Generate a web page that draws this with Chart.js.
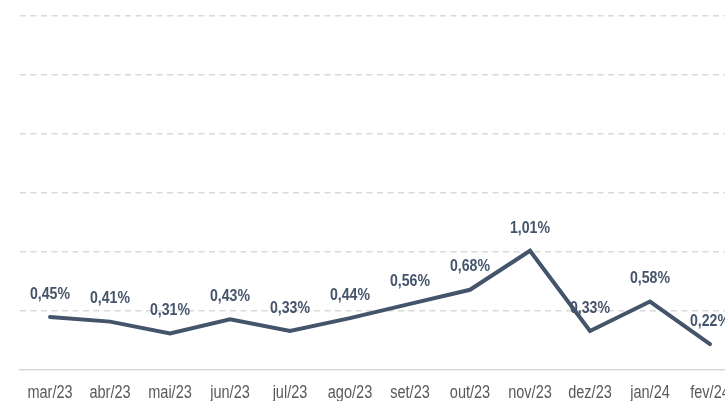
<!DOCTYPE html>
<html>
<head>
<meta charset="utf-8">
<script src="https://cdn.jsdelivr.net/npm/chart.js@4"></script>
<style>
html,body{margin:0;padding:0;background:#fff;overflow:hidden;width:725px;height:401px;}
#wrap{width:760px;height:401px;}
</style>
</head>
<body>
<div id="wrap"><canvas id="c" width="760" height="401"></canvas></div>
<script>
const categories = ['mar/23','abr/23','mai/23','jun/23','jul/23','ago/23','set/23','out/23','nov/23','dez/23','jan/24','fev/24'];
const values = [0.45, 0.41, 0.31, 0.43, 0.33, 0.44, 0.56, 0.68, 1.01, 0.33, 0.58, 0.22];
const yMin = 0, yMax = 3.0, yStep = 0.5;

const FONT = '"Liberation Sans", Arial, sans-serif';
const SX = 0.83; // horizontal condensing of text, as in the reference

function condensedText(ctx, txt, x, y) {
  ctx.save();
  ctx.translate(x, y);
  ctx.scale(SX, 1);
  ctx.fillText(txt, 0, 0);
  ctx.restore();
}

const labelPlugin = {
  id: 'condensedLabels',
  afterDatasetsDraw(chart) {
    const ctx = chart.ctx;
    const meta = chart.getDatasetMeta(0);
    const xs = chart.scales.x;
    ctx.save();
    ctx.textAlign = 'center';
    ctx.textBaseline = 'middle';
    // value labels
    ctx.font = 'bold 17px ' + FONT;
    ctx.fillStyle = '#44546A';
    meta.data.forEach((pt, i) => {
      const txt = values[i].toFixed(2).replace('.', ',') + '%';
      condensedText(ctx, txt, pt.x, pt.y - 23);
    });
    // category labels
    ctx.font = '17.5px ' + FONT;
    ctx.fillStyle = '#595959';
    categories.forEach((c, i) => {
      condensedText(ctx, c, xs.getPixelForTick(i), xs.bottom - 8);
    });
    ctx.restore();
  }
};

new Chart(document.getElementById('c'), {
  type: 'line',
  data: {
    labels: categories,
    datasets: [{
      data: values,
      borderColor: '#44546A',
      borderWidth: 4,
      borderCapStyle: 'round',
      borderJoinStyle: 'miter',
      pointRadius: 0,
      tension: 0,
      fill: false
    }]
  },
  options: {
    responsive: false,
    animation: false,
    layout: { padding: { left: 20, right: 20, top: 16, bottom: 0 } },
    plugins: { legend: { display: false }, tooltip: { enabled: false } },
    scales: {
      x: {
        offset: true,
        afterFit: (s) => { s.height = 31; },
        grid: { display: false, drawTicks: false },
        border: { display: true, color: '#d9d9d9', width: 1.5 },
        ticks: { display: false, autoSkip: false }
      },
      y: {
        min: yMin, max: yMax,
        ticks: { display: false, stepSize: yStep },
        border: { display: false, dash: [6, 4.5] },
        grid: {
          drawTicks: false,
          lineWidth: 1.5,
          color: (c) => c.tick && c.tick.value === 0 ? 'rgba(0,0,0,0)' : '#d9d9d9'
        }
      }
    }
  },
  plugins: [labelPlugin]
});
</script>
</body>
</html>
